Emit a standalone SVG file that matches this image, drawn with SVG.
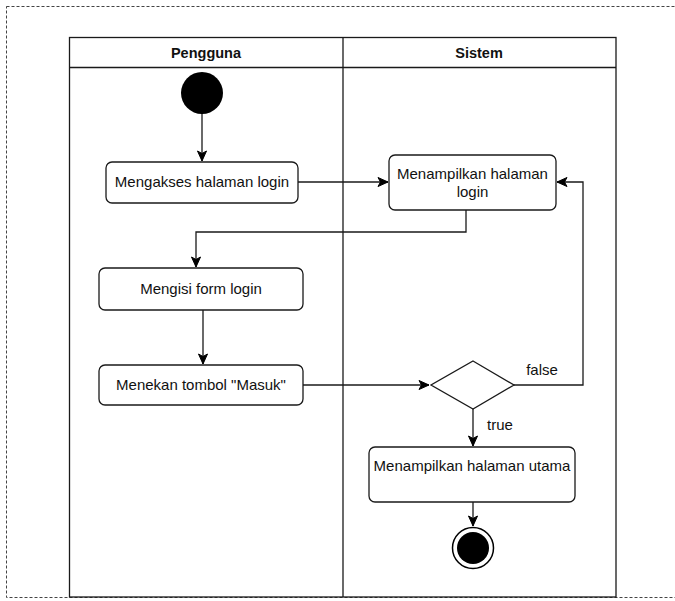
<svg xmlns="http://www.w3.org/2000/svg" width="675" height="601" viewBox="0 0 675 601">
<style>
text{font-family:"Liberation Sans",Arial,sans-serif;font-size:15px;fill:#111;text-anchor:middle}
.hd{font-weight:bold;font-size:14.5px}
.box{fill:#fff;stroke:#1a1a1a;stroke-width:1.3}
.lane{fill:none;stroke:#1a1a1a;stroke-width:1.3}
.cn{fill:none;stroke:#1a1a1a;stroke-width:1.3}
</style>
<defs>
<marker id="ah" markerUnits="userSpaceOnUse" markerWidth="12" markerHeight="12" viewBox="0 0 12 12" refX="11" refY="6" orient="auto">
<path d="M1,1.5 L11,6 L1,10.5 L3.5,6 Z" fill="#000" stroke="#000" stroke-width="1"/>
</marker>
</defs>
<rect width="675" height="601" fill="#fff"/>
<rect x="6.5" y="6.5" width="720" height="591" fill="none" stroke="#444" stroke-width="1" stroke-dasharray="3 2"/>
<g id="swimlanes">
<rect class="lane" x="69.5" y="37.5" width="546.5" height="559.5" fill="#fff"/>
<line class="lane" x1="69.5" y1="67.5" x2="616" y2="67.5"/>
<line class="lane" x1="343" y1="37.5" x2="343" y2="597"/>
<text class="hd" x="206" y="58">Pengguna</text>
<text class="hd" x="479" y="58">Sistem</text>
</g>
<g id="connectors">
<path class="cn" d="M202,114 L202,161" marker-end="url(#ah)"/>
<path class="cn" d="M298,182 L388,182" marker-end="url(#ah)"/>
<path class="cn" d="M466,210 L466,232 L196,232 L196,267" marker-end="url(#ah)"/>
<path class="cn" d="M203,310 L203,364" marker-end="url(#ah)"/>
<path class="cn" d="M303,385 L429,385" marker-end="url(#ah)"/>
<path class="cn" d="M514,385 L583,385 L583,182 L557,182" marker-end="url(#ah)"/>
<path class="cn" d="M473,409 L473,446" marker-end="url(#ah)"/>
<path class="cn" d="M473,502 L473,526" marker-end="url(#ah)"/>
<text x="542" y="375">false</text>
<text x="500" y="430">true</text>
</g>
<g id="start">
<circle cx="202" cy="93" r="21" fill="#000"/>
</g>
<g id="mengakses">
<rect class="box" x="106" y="162" width="192" height="41" rx="6"/>
<text x="202" y="187">Mengakses halaman login</text>
</g>
<g id="tampil-login">
<rect class="box" x="389" y="155" width="167" height="55" rx="6"/>
<text x="472.5" y="179">Menampilkan halaman</text>
<text x="472.5" y="197">login</text>
</g>
<g id="mengisi">
<rect class="box" x="99" y="268" width="204" height="42" rx="6"/>
<text x="201" y="294">Mengisi form login</text>
</g>
<g id="menekan">
<rect class="box" x="99" y="365" width="204" height="40" rx="6"/>
<text x="201" y="390">Menekan tombol "Masuk"</text>
</g>
<g id="decision">
<polygon class="box" points="473,361 514,385 473,409 431,385"/>
</g>
<g id="tampil-utama">
<rect class="box" x="369" y="447" width="206" height="55" rx="6"/>
<text x="472" y="471">Menampilkan halaman utama</text>
</g>
<g id="end">
<circle cx="473" cy="548" r="20.5" fill="#fff" stroke="#000" stroke-width="1.5"/>
<circle cx="473" cy="548" r="16" fill="#000"/>
</g>
</svg>
